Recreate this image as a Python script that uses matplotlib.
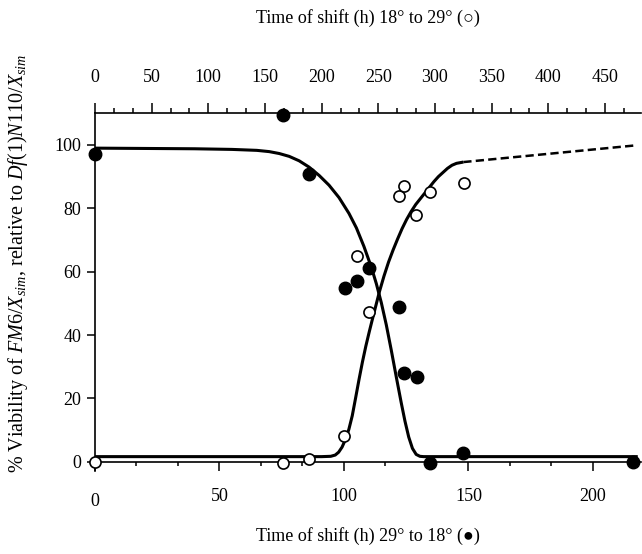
import matplotlib
matplotlib.use('Agg')
import matplotlib.pyplot as plt
from matplotlib.ticker import MultipleLocator, FixedLocator
import matplotlib.transforms as mtransforms

# ---------------- data ----------------
# shift 29° -> 18° (filled circles), bottom axis, hours
fill_x = [0, 75.6, 86.1, 100.3, 105.3, 110.1, 122.2, 124.1, 129.2, 134.7, 148.0, 216.2]
fill_y = [97.2, 109.5, 90.8, 54.8, 57.2, 61.1, 48.9, 27.9, 26.6, -0.5, 2.6, 0.0]
# shift 18° -> 29° (open circles), top axis, hours
open_x = [0, 166.2, 188.6, 219.7, 231.0, 241.6, 268.2, 272.9, 283.0, 295.3, 325.3]
open_y = [0.0, -0.5, 0.9, 8.2, 65.0, 47.2, 83.9, 87.1, 77.9, 85.1, 88.1]

# fitted curve for filled circles (bottom axis units)
fall_x = [0, 20, 40, 55, 65, 70, 74, 78, 82, 86, 90, 94, 98, 102, 105, 108, 111, 113,
          115, 117, 119, 121, 123, 124.5, 126, 127.5, 129, 130.5, 132, 218]
fall_y = [99.0, 98.9, 98.8, 98.6, 98.3, 97.9, 97.3, 96.4, 95.0, 93.0, 90.4, 87.3, 83.4,
          78.4, 73.8, 68.0, 61.4, 56.2, 50.2, 43.2, 35.2, 26.8, 18.6, 12.8, 7.8, 4.2,
          2.3, 1.7, 1.6, 1.6]
# fitted curve for open circles (top axis units)
rise_x = [0, 200, 208, 212, 215, 218, 221, 224, 227, 230, 233, 236, 239, 242, 245, 248,
          251, 255, 259, 263, 267, 271, 275, 279, 283, 287, 291, 295, 299, 303, 307,
          311, 315, 319, 325]
rise_y = [1.6, 1.6, 1.7, 2.1, 3.0, 4.6, 7.0, 10.2, 14.5, 20.2, 26.0, 31.5, 36.5, 41.0,
          45.3, 49.5, 53.7, 58.6, 63.0, 66.8, 70.3, 73.6, 76.5, 79.0, 81.2, 83.0, 84.8,
          86.6, 88.4, 90.0, 91.3, 92.6, 93.6, 94.2, 94.6]
# dashed extrapolation (top axis units)
ext_x = [325, 475]
ext_y = [94.6, 99.8]

bottom_ticks = [0, 50, 100, 150, 200]
top_ticks = [0, 50, 100, 150, 200, 250, 300, 350, 400, 450]
y_ticks = [0, 20, 40, 60, 80, 100]

top_label = 'Time of shift (h) 18° to 29° (○)'
bottom_label = 'Time of shift (h) 29° to 18° (●)'
y_label = (r'% Viability of $\mathit{FM6/X}_{\mathit{sim}}$, relative to '
           r'$\mathit{Df(1)N110/X}_{\mathit{sim}}$')

# ---------------- style ----------------
plt.rcParams['font.family'] = ['Liberation Serif', 'DejaVu Sans']
plt.rcParams['mathtext.fontset'] = 'custom'
plt.rcParams['mathtext.rm'] = 'Liberation Serif'
plt.rcParams['mathtext.it'] = 'Liberation Serif:italic'
plt.rcParams['mathtext.bf'] = 'Liberation Serif:bold'

FS = 13
W, H = 642, 554
fig = plt.figure(figsize=(W / 100, H / 100), dpi=100)
ax = fig.add_axes([95 / W, (H - 471.2) / H, 546 / W, (471.2 - 113.3) / H])
ax.patch.set_visible(False)

ax.set_xlim(0, 219.3)
ax.set_ylim(-3, 110)

ax.spines['right'].set_visible(False)
ax.spines['top'].set_visible(False)
ax.spines['bottom'].set_position(('data', 0))
for s in ['left', 'bottom']:
    ax.spines[s].set_linewidth(1.2)

ax.xaxis.set_major_locator(FixedLocator(bottom_ticks))
ax.xaxis.set_minor_locator(MultipleLocator(50 / 3))
ax.set_xticklabels([''] + [str(t) for t in bottom_ticks[1:]])
ax.yaxis.set_major_locator(FixedLocator(y_ticks))
ax.tick_params(axis='x', which='major', direction='out', length=6.5, width=1.1,
               labelsize=FS, pad=12.5)
ax.tick_params(axis='x', which='minor', direction='out', length=3, width=1.1)
ax.tick_params(axis='y', which='major', direction='out', length=6, width=1.1,
               labelsize=FS, pad=4)
# the lower "0" of the bottom axis sits a bit lower than the other labels
ax.text(0, 1 - 502 / H, '0',
        transform=mtransforms.blended_transform_factory(ax.transData, fig.transFigure),
        fontsize=FS, ha='center', va='center')

# top axis
ax2 = ax.twiny()
ax2.set_xlim(0, 481.8)
for s in ['left', 'right', 'bottom']:
    ax2.spines[s].set_visible(False)
ax2.spines['top'].set_linewidth(1.2)
ax2.xaxis.set_major_locator(FixedLocator(top_ticks))
ax2.xaxis.set_minor_locator(MultipleLocator(50 / 3))
ax2.tick_params(axis='x', which='major', direction='out', length=7, width=1.1,
                labelsize=FS, pad=13)
ax2.tick_params(axis='x', which='minor', direction='out', length=3.5, width=1.1)

# curves
ax.plot(fall_x, fall_y, color='black', lw=2.2, solid_joinstyle='round',
        solid_capstyle='butt', zorder=2)
ax2.plot(rise_x, rise_y, color='black', lw=2.2, solid_joinstyle='round',
         solid_capstyle='butt', zorder=2)
ax2.plot(ext_x, ext_y, color='black', lw=1.8, linestyle=(0, (3.3, 1.7)), zorder=2)

# points
ax.plot(fill_x, fill_y, 'o', color='black', ms=9, mec='black', clip_on=False, zorder=4)
ax2.plot(open_x, open_y, 'o', mfc='white', mec='black', ms=8, mew=1.2,
         clip_on=False, zorder=5)

# labels
fig.text(368 / W, 1 - 18 / H, top_label, fontsize=FS, ha='center', va='center')
fig.text(368 / W, 1 - 536 / H, bottom_label, fontsize=FS, ha='center', va='center')
fig.text(18 / W, 1 - 263 / H, y_label, fontsize=14.5, ha='center', va='center',
         rotation=90)

fig.savefig('out.png', dpi=100)
